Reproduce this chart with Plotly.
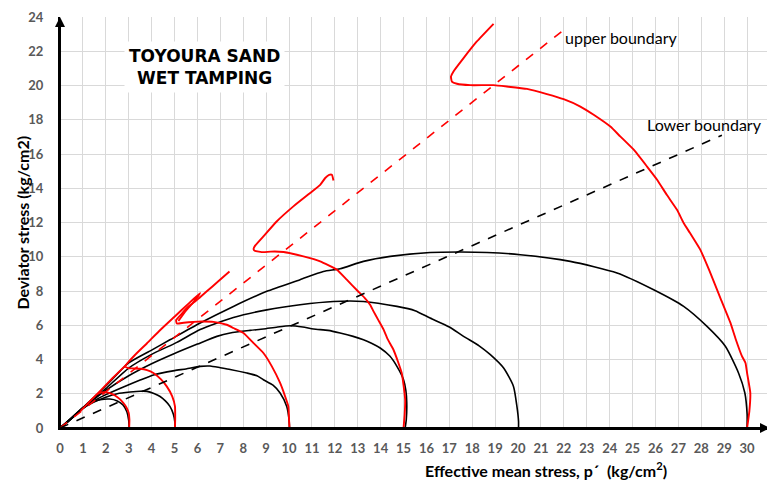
"""Stress paths of Toyoura sand (wet tamping) in p'-q space."""

import plotly.graph_objects as go

# drained-like black paths (start at origin, end at p0)
black_3_p = [0, 0.5, 1.0, 1.4, 1.75, 2.18, 2.5, 2.75, 2.92, 3.0, 3.02]
black_3_q = [0, 0.55, 1.15, 1.5, 1.65, 1.69, 1.58, 1.35, 0.95, 0.45, 0]

black_5_p = [0, 0.5, 1.0, 1.46, 2.0, 2.5, 3.06, 3.5, 3.8, 4.1, 4.37, 4.6, 4.8, 4.95, 5.02, 5.02]
black_5_q = [0, 0.55, 1.15, 1.5, 1.8, 2.0, 2.1, 2.15, 2.14, 2.02, 1.84, 1.58, 1.26, 0.8, 0.3, 0]

black_10_p = [0, 0.5, 1.0, 1.5, 2.0, 2.77, 3.5, 4.08, 5.0, 5.5, 6.12, 6.55, 7.0, 7.43,
              8.16, 8.6, 8.88, 9.3, 9.61, 9.9, 10.0, 10.02]
black_10_q = [0, 0.55, 1.15, 1.6, 1.95, 2.4, 2.8, 3.1, 3.35, 3.45, 3.6, 3.62, 3.52, 3.42,
              3.21, 3.05, 2.82, 2.5, 2.04, 1.26, 0.5, 0]

black_15_p = [0, 0.5, 1, 1.5, 2, 3, 4, 5, 6, 6.85, 7.43, 8.3, 8.88, 9.5, 10.05, 10.6, 11.07,
              11.7, 12.23, 12.8, 13.25, 13.6, 13.98, 14.4, 14.71, 15.0, 15.1, 15.14, 15.12, 15.07]
black_15_q = [0, 0.58, 1.18, 1.7, 2.2, 3.05, 3.75, 4.35, 4.9, 5.35, 5.55, 5.7, 5.78, 5.9, 5.97, 5.9,
              5.78, 5.7, 5.55, 5.35, 5.15, 4.95, 4.67, 4.2, 3.6, 2.82, 2.2, 1.5, 0.5, 0]

black_20_p = [0, 0.5, 1, 1.5, 2, 3, 4, 5.1, 6.12, 7.57, 9.03, 10.48, 11.94, 13.25, 14.71, 15.5,
              16.16, 17.0, 17.62, 18.3, 18.79, 19.37, 19.8, 19.95, 20.02, 20.02]
black_20_q = [0, 0.58, 1.18, 1.72, 2.3, 3.5, 4.3, 5.0, 5.75, 6.45, 6.9, 7.2, 7.39, 7.39, 7.1, 6.85,
              6.42, 5.9, 5.35, 4.8, 4.28, 3.5, 2.43, 1.26, 0.4, 0]

black_30_p = [0, 0.5, 1, 1.5, 2, 3, 4, 4.8, 6.12, 7.57, 9.03, 10.48, 11.5, 12.23, 13.25, 14.42,
              16.16, 17.5, 18.64, 20.1, 22.28, 24.32, 25.92, 27.23, 28.25, 29.05, 29.63, 29.9,
              30.0, 30.0]
black_30_q = [0, 0.6, 1.2, 1.8, 2.45, 3.8, 4.55, 5.15, 6.13, 7.1, 7.98, 8.66, 9.14, 9.3, 9.73, 10.02,
              10.25, 10.28, 10.25, 10.12, 9.73, 9.05, 8.07, 7.1, 5.93, 4.77, 3.2, 2.06, 0.8, 0]

# undrained-like red paths (start at p0 on the p axis)
red_3_p = [3.02, 3.03, 3.0, 2.9, 2.77, 2.6, 2.4, 2.2, 2.04, 1.82, 1.6, 1.3, 0.9, 1.3, 1.8, 2.3, 2.9]
red_3_q = [0.0, 0.5, 0.88, 1.2, 1.46, 1.7, 1.9, 2.02, 2.08, 2.08, 1.96, 1.55, 1.0, 1.55, 2.23, 2.92, 3.7]

red_5_p = [5.02, 5.03, 5.02, 4.9, 4.66, 4.4, 4.08, 3.8, 3.5, 3.2, 2.98, 2.84, 3.3, 3.8, 4.4,
           5.0, 5.6, 6.12, 5.8, 5.5, 5.17]
red_5_q = [0, 0.6, 1.26, 1.85, 2.43, 2.85, 3.21, 3.38, 3.46, 3.48, 3.5, 3.6, 4.3, 4.95, 5.75,
           6.5, 7.25, 7.88, 7.3, 6.85, 6.25]

red_10_p = [10.02, 10.0, 9.97, 9.83, 9.61, 9.25, 8.88, 8.45, 8.01, 7.57, 7.28, 6.7, 6.2, 5.82,
            5.4, 5.1, 5.07, 5.3, 5.53, 6.0, 6.41, 6.9, 7.4]
red_10_q = [0, 0.5, 1.26, 1.84, 2.63, 3.6, 4.38, 4.96, 5.55, 5.84, 6.03, 6.2, 6.22, 6.2,
            6.15, 6.1, 6.3, 6.65, 7.0, 7.5, 7.98, 8.55, 9.14]

red_15_p = [15.0, 15.05, 15.07, 15.0, 14.92, 14.75, 14.56, 14.3, 14.13, 13.9, 13.69, 13.54, 13.3,
            13.0, 12.52, 12.09, 11.36, 10.63, 9.76, 9.2, 8.88, 8.5, 8.45, 8.52, 8.88, 9.46,
            10.19, 10.92, 11.36, 11.58, 11.75, 11.87, 11.94]
red_15_q = [0, 0.8, 1.65, 2.5, 3.21, 3.9, 4.57, 5.2, 5.74, 6.3, 6.81, 7.2, 7.6, 8.0, 8.66, 9.24,
            9.73, 10.02, 10.28, 10.3, 10.27, 10.35, 10.45, 10.65, 11.19, 12.06, 12.94, 13.72,
            14.2, 14.6, 14.78, 14.79, 14.45]

red_30_p = [30.0, 30.1, 30.14, 30.0, 29.93, 29.78, 29.5, 29.27, 28.83, 28.35, 27.96, 27.5, 27.23,
            26.94, 26.5, 26.07, 25.63, 25.05, 24.46, 24.03, 23.3, 22.72, 21.99, 21.26, 20.39,
            19.51, 18.93, 17.91, 17.33, 17.11, 17.07, 17.18, 17.62, 18.2, 18.93]
red_30_q = [0, 1.0, 2.06, 3.2, 3.8, 4.18, 5.2, 6.15, 7.6, 9.2, 10.4, 11.4, 11.97, 12.74, 13.6,
            14.5, 15.27, 16.25, 17.03, 17.6, 18.29, 18.77, 19.2, 19.5, 19.8, 19.94, 20.02, 20.02,
            20.1, 20.23, 20.52, 20.82, 21.6, 22.57, 23.6]

# boundary lines
upper_p = [0, 21.9]
upper_q = [0, 23.15]
lower_p = [0, 28.9]
lower_q = [0, 17.1]

x_ticks = list(range(0, 32))
y_ticks = list(range(0, 25, 2))

fig = go.Figure()

black_paths = [
    (black_3_p, black_3_q), (black_5_p, black_5_q), (black_10_p, black_10_q),
    (black_15_p, black_15_q), (black_20_p, black_20_q), (black_30_p, black_30_q),
]
for p, q in black_paths:
    fig.add_trace(go.Scatter(x=p, y=q, mode="lines", line_shape="spline",
                             line=dict(color="black", width=1.6, smoothing=0.6),
                             hoverinfo="skip"))

red_paths = [
    (red_3_p, red_3_q), (red_5_p, red_5_q), (red_10_p, red_10_q),
    (red_15_p, red_15_q), (red_30_p, red_30_q),
]
for p, q in red_paths:
    fig.add_trace(go.Scatter(x=p, y=q, mode="lines", line_shape="spline",
                             line=dict(color="#ff0000", width=1.9, smoothing=0.4),
                             hoverinfo="skip"))

fig.add_trace(go.Scatter(x=upper_p, y=upper_q, mode="lines",
                         line=dict(color="#ff0000", width=1.6, dash="dash")))
fig.add_trace(go.Scatter(x=lower_p, y=lower_q, mode="lines",
                         line=dict(color="black", width=1.6, dash="dash")))

tick_font = dict(family="Lato", size=13, color="#595959", weight="bold")
title_font = dict(family="Lato", size=16, color="black", weight="bold")

fig.update_xaxes(
    range=[0, 31], tickvals=x_ticks, showgrid=True, gridcolor="#d9d9d9", gridwidth=1,
    zeroline=False, showline=True, linecolor="black", linewidth=2,
    tickfont=tick_font, ticklabelstandoff=7, automargin=False,
)
fig.update_yaxes(
    range=[0, 24], tickvals=y_ticks, showgrid=True, gridcolor="#d9d9d9", gridwidth=1,
    zeroline=False, showline=True, linecolor="black", linewidth=2,
    tickfont=tick_font, ticklabelstandoff=12, automargin=False,
)

# axis arrows
fig.add_annotation(x=31, y=0, ax=0, ay=0, axref="x", ayref="y", xref="x", yref="y",
                   showarrow=True, arrowhead=2, arrowsize=1, arrowwidth=2, arrowcolor="black",
                   text="")
fig.add_annotation(x=0, y=24, ax=0, ay=0, axref="x", ayref="y", xref="x", yref="y",
                   showarrow=True, arrowhead=2, arrowsize=1, arrowwidth=2, arrowcolor="black",
                   text="")

fig.add_annotation(x=6.33, y=21.1, xref="x", yref="y", showarrow=False,
                   text="TOYOURA SAND<br>WET TAMPING", bgcolor="white", borderpad=4,
                   font=dict(family="DejaVu Sans", size=17, color="black", weight="bold"))
fig.add_annotation(x=21.97, y=22.8, xref="x", yref="y", showarrow=False, xanchor="left",
                   text="upper boundary", font=dict(family="Lato", size=16, color="black"))
fig.add_annotation(x=25.55, y=17.75, xref="x", yref="y", showarrow=False, xanchor="left",
                   text="Lower boundary", font=dict(family="Lato", size=16, color="black"))

fig.add_annotation(x=0.685, y=-0.102, xref="paper", yref="paper", showarrow=False,
                   xanchor="center", yanchor="middle",
                   text="Effective mean stress, p´  (kg/cm<sup>2</sup>)", font=title_font)
fig.add_annotation(x=-0.0535, y=0.5, xref="paper", yref="paper", showarrow=False,
                   xanchor="center", yanchor="middle",
                   textangle=-90, text="Deviator stress (kg/cm2)", font=title_font)

# the page body adds an 8 px offset, so the figure is sized to fit the window
fig.update_layout(
    width=767, height=473,
    margin=dict(l=52, r=5, t=9, b=53),
    plot_bgcolor="white", paper_bgcolor="white",
    showlegend=False,
)

fig.write_html("out.html")
